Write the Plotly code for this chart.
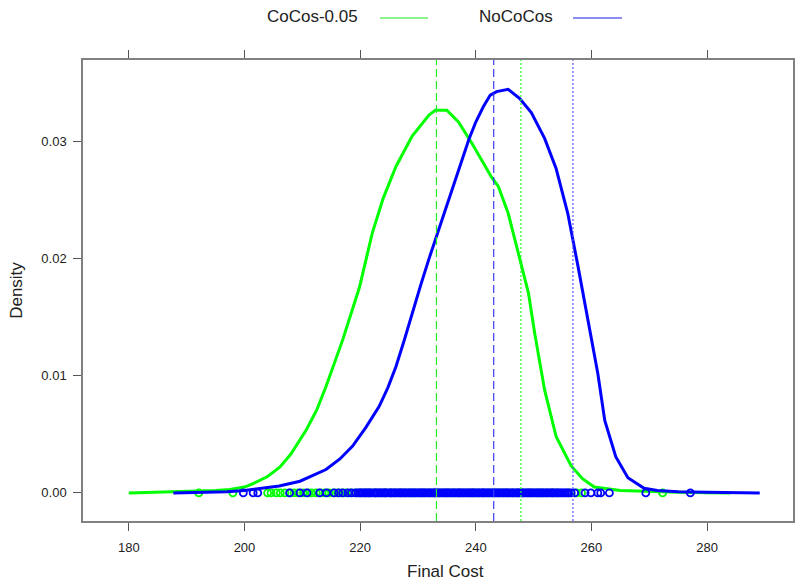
import plotly.graph_objects as go

# Density curve of CoCos-0.05 (green)
green_x = [180, 185, 190, 195, 197.5, 200, 201.5, 204, 206.1, 208, 210.7, 212.5, 214.1, 217.0,
           219.9, 222.1, 224, 226.2, 229, 231.9, 233.0, 235.0, 237.0, 239.3, 242.7, 243.9,
           245.6, 247.4, 249.1, 250.2, 251.9, 253.9, 256.5, 258.5, 260.5, 265, 270, 275, 280, 284]
green_y = [0.0, 0.00005, 0.0001, 0.0002, 0.0003, 0.0005, 0.0008, 0.0014, 0.0022, 0.0033, 0.0054,
           0.0071, 0.0091, 0.0131, 0.0176, 0.0222, 0.0252, 0.0279, 0.0305, 0.0323, 0.0327, 0.0327,
           0.0317, 0.0299, 0.0270, 0.0262, 0.0239, 0.0205, 0.0171, 0.0136, 0.0088, 0.0048, 0.0023,
           0.0012, 0.0005, 0.0002, 0.0001, 0.00005, 0.00002, 0.0]

# Density curve of NoCoCos (blue)
blue_x = [187.7, 192, 197, 200, 203.2, 206, 209.6, 212, 214.1, 216.5, 218.7, 221, 223.3, 224.8,
          226.2, 227.6, 229.0, 230.5, 231.9, 233.6, 235.3, 237, 238.8, 240, 241.3, 242.5, 243.6,
          245.6, 247.6, 249.6, 251.9, 253.9, 255.9, 257.7, 259.4, 261.1, 262.3, 264.2, 266.3,
          269.1, 271.4, 275, 280, 285, 289.1]
blue_y = [0.0, 0.00005, 0.0001, 0.0002, 0.0004, 0.0006, 0.0010, 0.0015, 0.0020, 0.0029, 0.0040,
          0.0056, 0.0074, 0.0090, 0.0108, 0.0130, 0.0154, 0.0178, 0.0200, 0.0225, 0.0250, 0.0276,
          0.0302, 0.0317, 0.0330, 0.0340, 0.0343, 0.0345, 0.0337, 0.0325, 0.0303, 0.0277, 0.0239,
          0.0193, 0.0148, 0.0102, 0.0062, 0.0031, 0.0013, 0.0004, 0.0002, 0.0001, 0.00005,
          0.00002, 0.0]

# Raw observations (rug points at density 0)
green_obs = [192.1, 198.0, 204.0, 204.6, 205.5, 206.2, 207.0, 207.9, 208.6, 209.3, 210.2, 211.0,
             211.6, 212.4, 213.1, 213.9, 214.6, 215.4, 216.1, 216.9, 217.6, 218.4, 219.2, 220.1,
             220.9, 221.8, 222.6, 223.5, 224.3, 225.2, 226.0, 226.9, 227.7, 228.6, 229.4, 230.3,
             231.1, 232.0, 232.8, 233.7, 234.5, 235.4, 236.2, 237.1, 237.9, 238.8, 239.6, 240.5,
             241.3, 242.2, 243.0, 243.9, 244.7, 245.6, 246.4, 247.3, 248.1, 249.0, 249.8, 250.7,
             251.5, 252.4, 253.2, 254.1, 256.0, 257.4, 258.3, 272.3]
blue_obs = [199.8, 201.5, 202.3, 207.8, 209.6, 210.8, 213.0, 214.2, 215.5, 216.3, 217.0, 217.9,
            218.5, 219.2, 219.6, 219.9, 220.2, 220.5, 220.8, 221.1, 221.4, 221.6, 221.9, 222.3,
            222.6, 222.8, 223.1, 223.4, 223.7, 224.0, 224.3, 224.5, 224.8, 225.2, 225.4, 225.7,
            226.0, 226.3, 226.6, 226.9, 227.1, 227.4, 227.7, 228.0, 228.3, 228.6, 228.9, 229.1,
            229.4, 229.7, 230.0, 230.3, 230.6, 230.8, 231.1, 231.4, 231.7, 232.0, 232.3, 232.6,
            232.9, 233.1, 233.4, 233.7, 234.0, 234.3, 234.6, 234.9, 235.1, 235.4, 235.7, 236.0,
            236.3, 236.6, 236.9, 237.2, 237.4, 237.7, 238.0, 238.3, 238.6, 238.9, 239.2, 239.4,
            239.7, 240.0, 240.3, 240.6, 240.9, 241.2, 241.4, 241.7, 242.0, 242.3, 242.6, 242.9,
            243.2, 243.4, 243.7, 244.0, 244.3, 244.6, 244.9, 245.2, 245.4, 245.7, 246.0, 246.3,
            246.6, 246.9, 247.2, 247.4, 247.7, 248.0, 248.3, 248.6, 248.9, 249.2, 249.4, 249.7,
            250.0, 250.3, 250.6, 250.9, 251.2, 251.4, 251.7, 252.0, 252.3, 252.6, 252.9, 253.2,
            253.4, 253.7, 254.0, 254.3, 254.6, 254.9, 255.2, 255.5, 255.8, 256.1, 256.5, 257.1,
            258.9, 259.9, 261.1, 261.6, 263.1, 269.4, 277.1]

# Reference lines (mean dashed, quantile dotted)
green_mean, blue_mean = 233.2, 243.1
green_q, blue_q = 247.8, 256.8

x_ticks = [180, 200, 220, 240, 260, 280]
y_ticks = [0.00, 0.01, 0.02, 0.03]
y_ticklabels = ["0.00", "0.01", "0.02", "0.03"]

GREEN = "#00ff00"
BLUE = "#0000ff"
FONT = "Liberation Sans"
TXT = "#222222"

fig = go.Figure()
fig.add_trace(go.Scatter(x=green_obs, y=[0] * len(green_obs), mode="markers",
                         marker=dict(symbol="circle-open", size=7, color=GREEN, line=dict(width=1.8)),
                         showlegend=False, hoverinfo="skip"))
fig.add_trace(go.Scatter(x=green_x, y=green_y, mode="lines",
                         line=dict(color=GREEN, width=3), showlegend=False))
fig.add_trace(go.Scatter(x=blue_obs, y=[0] * len(blue_obs), mode="markers",
                         marker=dict(symbol="circle-open", size=7, color=BLUE, line=dict(width=1.8)),
                         showlegend=False, hoverinfo="skip"))
fig.add_trace(go.Scatter(x=blue_x, y=blue_y, mode="lines",
                         line=dict(color=BLUE, width=3), showlegend=False))

for xv, col, dash in [(green_mean, "#22ee22", "8px,4px"), (blue_mean, "#3a3aff", "8px,4px"),
                      (green_q, "#22ff22", "2px,2px"), (blue_q, "#5555ff", "2px,2px")]:
    fig.add_shape(type="line", xref="x", yref="paper", x0=xv, x1=xv, y0=0, y1=1,
                  line=dict(color=col, width=1.2, dash=dash), layer="above")

# Legend (text before line sample, as in lattice key)
fig.add_annotation(xref="paper", yref="paper", x=0.3239, y=1.094, text="CoCos-0.05",
                   showarrow=False, xanchor="center", yanchor="middle",
                   font=dict(size=17, color=TXT, family=FONT))
fig.add_shape(type="line", xref="paper", yref="paper", x0=0.4183, x1=0.4859, y0=1.091, y1=1.091,
              line=dict(color="#66ee66", width=1.5))
fig.add_annotation(xref="paper", yref="paper", x=0.6092, y=1.094, text="NoCoCos",
                   showarrow=False, xanchor="center", yanchor="middle",
                   font=dict(size=17, color=TXT, family=FONT))
fig.add_shape(type="line", xref="paper", yref="paper", x0=0.6901, x1=0.7592, y0=1.091, y1=1.091,
              line=dict(color="#6666ee", width=1.5))

# x-axis title (placed as in the reference)
fig.add_annotation(xref="paper", yref="paper", x=0.5099, y=-0.1106, text="Final Cost",
                   showarrow=False, xanchor="center", yanchor="middle",
                   font=dict(size=17, color=TXT, family=FONT))

axis_common = dict(showgrid=False, zeroline=False, showline=True, linecolor="#808080", linewidth=1.5,
                   mirror="ticks", ticks="outside", tickcolor="#555555", tickwidth=1, ticklen=8,
                   automargin=False,
                   tickfont=dict(size=13, color=TXT, family=FONT))

fig.update_xaxes(range=[172.08, 294.85], tickvals=x_ticks, ticklabelstandoff=6, **axis_common)
fig.update_yaxes(range=[-0.0024, 0.0370], tickvals=y_ticks, ticktext=y_ticklabels,
                 ticklabelstandoff=4,
                 title=dict(text="Density", font=dict(size=17, color=TXT, family=FONT),
                            standoff=14),
                 **axis_common)

fig.update_layout(width=795, height=582, margin=dict(l=83, r=2, t=60, b=61),
                  plot_bgcolor="white", paper_bgcolor="white",
                  font=dict(family=FONT))

fig.write_html("out.html")
